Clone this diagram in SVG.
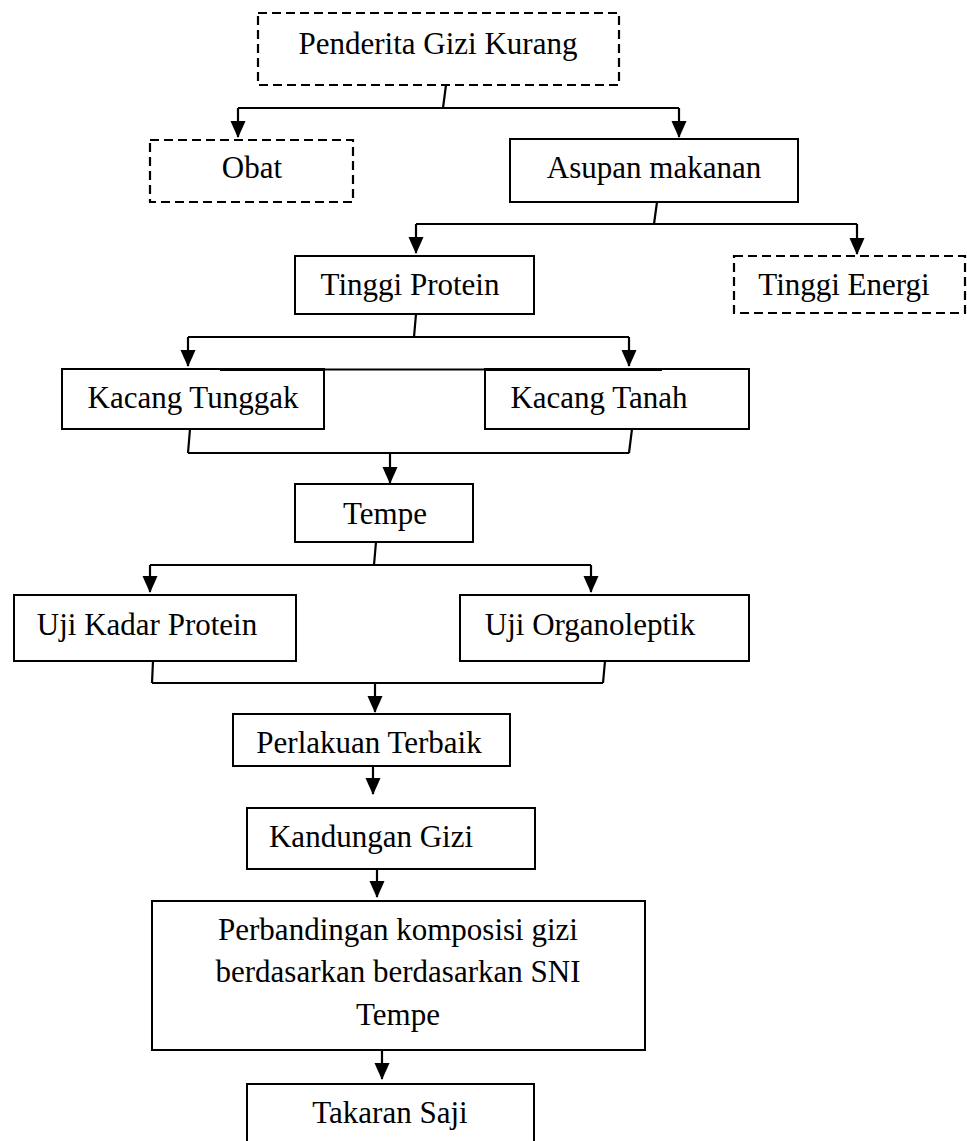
<svg xmlns="http://www.w3.org/2000/svg" width="967" height="1141" viewBox="0 0 967 1141">
<style>
.box{fill:#fff;stroke:#000;stroke-width:2}
.dash{fill:#fff;stroke:#000;stroke-width:2.2;stroke-dasharray:9 5}
.t{font-family:"Liberation Serif","Times New Roman",serif;font-size:31px;fill:#000;text-anchor:middle}
.ln{fill:none;stroke:#000;stroke-width:2.2}
.ar{fill:none;stroke:#000;stroke-width:2.2;marker-end:url(#ah)}
</style>
<defs>
<marker id="ah" markerUnits="userSpaceOnUse" markerWidth="18" markerHeight="16" refX="16" refY="7.5" orient="auto">
<path d="M0,0 L17,7.5 L0,15 z" fill="#000"/>
</marker>
</defs>
<rect width="967" height="1141" fill="#fff"/>
<g id="connectors">
<path class="ln" d="M446,85 L443,108 M238,108 H679"/>
<path class="ar" d="M238,108 V137"/>
<path class="ar" d="M679,108 V137"/>
<path class="ln" d="M657,202 L654,224 M416,224 H857"/>
<path class="ar" d="M416,224 V253"/>
<path class="ar" d="M857,224 V254"/>
<path class="ln" d="M416,314 L414,337 M188,337 H629"/>
<path class="ar" d="M188,337 V366"/>
<path class="ar" d="M629,337 V366"/>
<path class="ln" d="M190,429 L188,453 M632,429 L629,453 M188,453 H629"/>
<path class="ar" d="M390,453 V483"/>
<path class="ln" d="M376,542 L374,565 M150,565 H591"/>
<path class="ar" d="M150,565 V592"/>
<path class="ar" d="M591,565 V592"/>
<path class="ln" d="M153,661 L152,683 M605,661 L603,683 M152,683 H603"/>
<path class="ar" d="M375,683 V712"/>
<path class="ar" d="M373,766 V794"/>
<path class="ar" d="M377,869 V897"/>
<path class="ar" d="M382,1050 V1079"/>
</g>
<g id="n-penderita"><rect class="dash" x="258" y="13" width="361" height="72"/><text class="t" x="438" y="54">Penderita Gizi Kurang</text></g>
<g id="n-obat"><rect class="dash" x="150" y="140" width="203" height="62"/><text class="t" x="252" y="178">Obat</text></g>
<g id="n-asupan"><rect class="box" x="510" y="139" width="288" height="63"/><text class="t" x="654" y="178">Asupan makanan</text></g>
<g id="n-protein"><rect class="box" x="295" y="256" width="239" height="58"/><text class="t" x="410" y="295">Tinggi Protein</text></g>
<g id="n-energi"><rect class="dash" x="734" y="256" width="231" height="57"/><text class="t" x="844" y="295">Tinggi Energi</text></g>
<g id="n-tunggak"><rect class="box" x="62" y="369" width="262" height="60"/><text class="t" x="193" y="408">Kacang Tunggak</text></g>
<g id="n-tanah"><rect class="box" x="485" y="369" width="264" height="60"/><text class="t" x="599" y="408">Kacang Tanah</text></g>
<g id="kacang-top"><path class="ln" d="M324,369.5 H485"/><path fill="none" stroke="#000" stroke-width="3.2" d="M220,369.5 H324 M485,369.5 H662"/></g>
<g id="n-tempe"><rect class="box" x="295" y="484" width="178" height="58"/><text class="t" x="385" y="524">Tempe</text></g>
<g id="n-ujiprotein"><rect class="box" x="14" y="595" width="282" height="66"/><text class="t" x="147" y="635">Uji Kadar Protein</text></g>
<g id="n-organoleptik"><rect class="box" x="460" y="595" width="289" height="66"/><text class="t" x="590" y="635">Uji Organoleptik</text></g>
<g id="n-perlakuan"><rect class="box" x="233" y="714" width="277" height="52"/><text class="t" x="369" y="753">Perlakuan Terbaik</text></g>
<g id="n-kandungan"><rect class="box" x="247" y="808" width="288" height="61"/><text class="t" x="371" y="847">Kandungan Gizi</text></g>
<g id="n-perbandingan"><rect class="box" x="152" y="901" width="493" height="149"/><text class="t" x="398" y="940">Perbandingan komposisi gizi</text><text class="t" x="398" y="982">berdasarkan berdasarkan SNI</text><text class="t" x="398" y="1025">Tempe</text></g>
<g id="n-takaran"><rect class="box" x="247" y="1084" width="287" height="70"/><text class="t" x="390" y="1123">Takaran Saji</text></g>
</svg>
